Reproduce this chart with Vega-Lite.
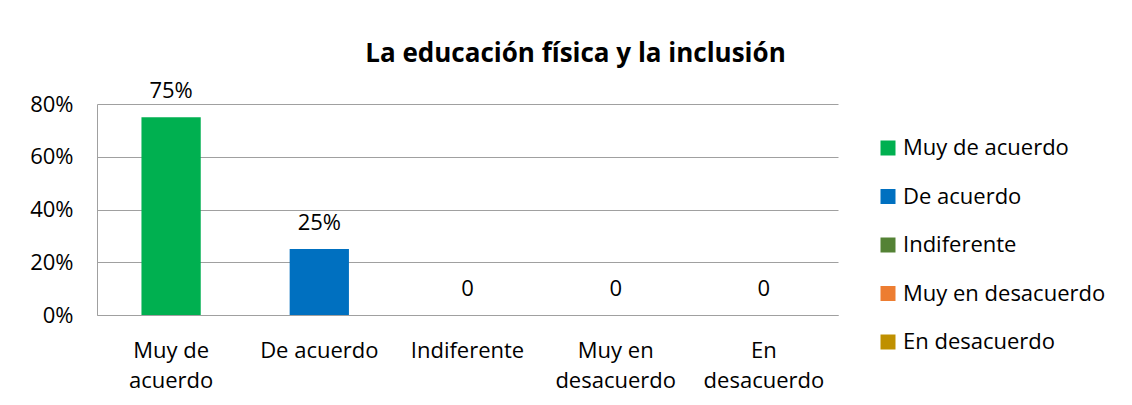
{
  "$schema": "https://vega.github.io/schema/vega-lite/v6.json",
  "autosize": {"type": "none"},
  "width": 741,
  "height": 211,
  "padding": {"left": 97, "top": 104, "right": 294, "bottom": 90},
  "background": "white",
  "title": {
    "text": "La educación física y la inclusión",
    "font": "Open Sans",
    "fontSize": 26,
    "fontWeight": "bold",
    "color": "#000000",
    "anchor": "middle",
    "dx": 108,
    "offset": 13
  },
  "data": {
    "values": [
      {"categoria": "Muy de acuerdo", "valor": 0.75, "etiqueta": "75%"},
      {"categoria": "De acuerdo", "valor": 0.25, "etiqueta": "25%"},
      {"categoria": "Indiferente", "valor": 0, "etiqueta": "0"},
      {"categoria": "Muy en desacuerdo", "valor": 0, "etiqueta": "0"},
      {"categoria": "En desacuerdo", "valor": 0, "etiqueta": "0"}
    ]
  },
  "encoding": {
    "x": {
      "field": "categoria",
      "type": "nominal",
      "sort": null,
      "title": null,
      "scale": {"paddingInner": 0.6, "paddingOuter": 0.3},
      "axis": {
        "labelAngle": 0,
        "labelFont": "Open Sans",
        "labelFontSize": 22,
        "labelColor": "#000000",
        "labelBaseline": "top",
        "labelPadding": 25,
        "labelLineHeight": 30,
        "labelLimit": 0,
        "ticks": false,
        "domainColor": "#a0a0a0",
        "labelExpr": "datum.label == 'Muy de acuerdo' ? ['Muy de', 'acuerdo'] : datum.label == 'Muy en desacuerdo' ? ['Muy en', 'desacuerdo'] : datum.label == 'En desacuerdo' ? ['En', 'desacuerdo'] : datum.label"
      }
    },
    "y": {
      "field": "valor",
      "type": "quantitative",
      "title": null,
      "scale": {"domain": [0, 0.8], "nice": false},
      "axis": {
        "values": [0, 0.2, 0.4, 0.6, 0.8],
        "format": ".0%",
        "labelFont": "Open Sans",
        "labelFontSize": 22,
        "labelColor": "#000000",
        "labelPadding": 24,
        "ticks": false,
        "domainColor": "#a0a0a0",
        "gridColor": "#a0a0a0",
        "grid": true
      }
    }
  },
  "layer": [
    {
      "mark": {"type": "bar"},
      "encoding": {
        "color": {
          "field": "categoria",
          "type": "nominal",
          "sort": null,
          "scale": {
            "domain": ["Muy de acuerdo", "De acuerdo", "Indiferente", "Muy en desacuerdo", "En desacuerdo"],
            "range": ["#00B050", "#0070C0", "#548235", "#ED7D31", "#BF9000"]
          },
          "legend": {
            "title": null,
            "orient": "none",
            "legendX": 780,
            "legendY": 33,
            "symbolType": "square",
            "symbolSize": 225,
            "symbolStrokeWidth": 0,
            "symbolOpacity": 1,
            "labelFont": "Open Sans",
            "labelFontSize": 22,
            "labelColor": "#000000",
            "labelOffset": 4,
            "labelLimit": 0,
            "rowPadding": 26.5,
            "padding": 0
          }
        }
      }
    },
    {
      "mark": {"type": "text", "dy": -26, "font": "Open Sans", "fontSize": 22, "color": "#000000", "baseline": "middle"},
      "encoding": {
        "text": {"field": "etiqueta", "type": "nominal"}
      }
    }
  ],
  "config": {
    "view": {"stroke": null}
  }
}
